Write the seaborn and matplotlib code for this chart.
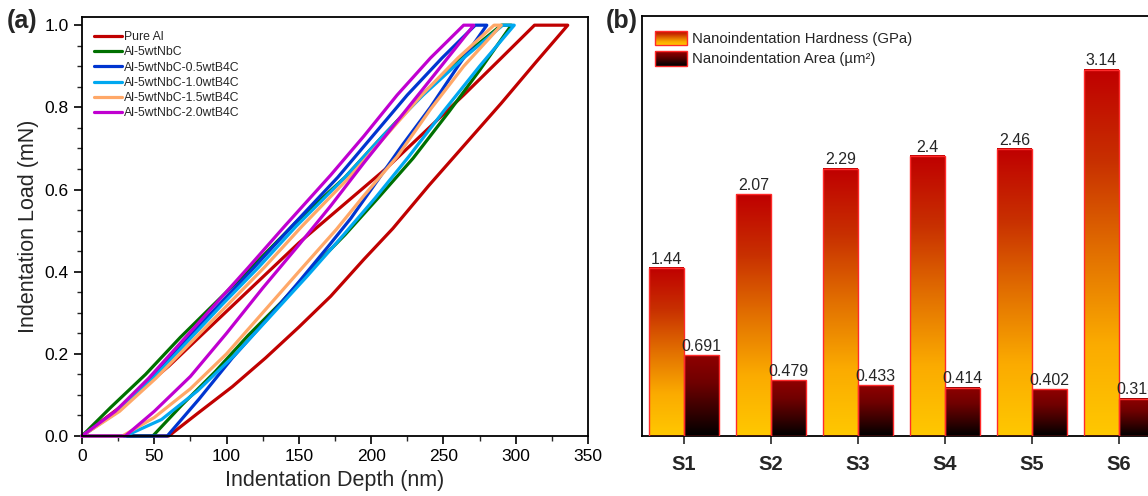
import numpy as np
import pandas as pd
import matplotlib
matplotlib.use('Agg')
import matplotlib.pyplot as plt
import seaborn as sns
from matplotlib.colors import LinearSegmentedColormap
from matplotlib.legend_handler import HandlerBase
from matplotlib.patches import Rectangle
from matplotlib.ticker import MultipleLocator

sns.set_style('ticks')
plt.rcParams['font.family'] = ['Liberation Sans', 'DejaVu Sans']

# ---------------- Panel (a) data: load-depth curves ----------------
samples = ['Pure Al', 'Al-5wtNbC', 'Al-5wtNbC-0.5wtB4C', 'Al-5wtNbC-1.0wtB4C',
           'Al-5wtNbC-1.5wtB4C', 'Al-5wtNbC-2.0wtB4C']
line_colors = ['#c00000', '#007000', '#0035d0', '#00a8f0', '#ffa868', '#c000d0']

pure_al_load_h = [0, 30, 60, 90, 120, 150, 180, 210, 240, 264, 290, 313]
pure_al_load_p = [0, 0.08, 0.17, 0.27, 0.37, 0.47, 0.56, 0.65, 0.75, 0.83, 0.92, 1.0]
pure_al_unload_h = [336, 314, 290, 265, 240, 215, 195, 172, 150, 127, 104, 80, 60, 0]
pure_al_unload_p = [1.0, 0.91, 0.81, 0.71, 0.61, 0.505, 0.43, 0.34, 0.265, 0.19, 0.12, 0.055, 0.0, 0.0]

nbc_load_h = [0, 20, 44, 68, 94, 120, 148, 182, 208, 235, 262, 290]
nbc_load_p = [0, 0.07, 0.15, 0.24, 0.33, 0.42, 0.52, 0.63, 0.73, 0.83, 0.92, 1.0]
nbc_unload_h = [297, 275, 254, 229, 205, 182, 161, 138, 115, 92, 69, 49, 0]
nbc_unload_p = [1.0, 0.89, 0.79, 0.676, 0.58, 0.49, 0.415, 0.326, 0.245, 0.156, 0.075, 0.0, 0.0]

b05_load_h = [0, 24, 48, 71, 95, 119, 145, 177, 201, 225, 249, 272]
b05_load_p = [0, 0.06, 0.14, 0.23, 0.32, 0.41, 0.51, 0.63, 0.73, 0.83, 0.92, 1.0]
b05_unload_h = [280, 260, 241, 222, 204, 186, 170, 150, 127, 104, 81, 59, 0]
b05_unload_p = [1.0, 0.9, 0.8, 0.71, 0.62, 0.53, 0.46, 0.375, 0.28, 0.19, 0.09, 0.0, 0.0]

b10_load_h = [0, 25, 49, 73, 97, 122, 148, 182, 208, 236, 264, 291]
b10_load_p = [0, 0.06, 0.14, 0.23, 0.32, 0.41, 0.51, 0.63, 0.73, 0.83, 0.92, 1.0]
b10_unload_h = [299, 275, 250, 226, 203, 181, 156, 130, 105, 80, 55, 30, 0]
b10_unload_p = [1.0, 0.9, 0.79, 0.68, 0.58, 0.49, 0.39, 0.29, 0.195, 0.11, 0.04, 0.0, 0.0]

b15_load_h = [0, 26, 51, 76, 101, 126, 152, 185, 210, 235, 260, 285]
b15_load_p = [0, 0.06, 0.14, 0.23, 0.32, 0.41, 0.51, 0.63, 0.73, 0.83, 0.92, 1.0]
b15_unload_h = [290, 264, 241, 218, 195, 176, 150, 125, 100, 75, 50, 28, 0]
b15_unload_p = [1.0, 0.9, 0.795, 0.68, 0.585, 0.503, 0.40, 0.30, 0.20, 0.115, 0.045, 0.0, 0.0]

b20_load_h = [0, 23, 46, 69, 92, 115, 140, 172, 195, 218, 241, 264]
b20_load_p = [0, 0.06, 0.14, 0.23, 0.32, 0.41, 0.51, 0.635, 0.73, 0.83, 0.92, 1.0]
b20_unload_h = [271, 245, 220, 195, 172, 150, 125, 100, 75, 50, 30, 0]
b20_unload_p = [1.0, 0.885, 0.775, 0.665, 0.56, 0.465, 0.36, 0.25, 0.145, 0.06, 0.0, 0.0]

# ---------------- Panel (b) data: bars ----------------
bar_categories = ['S1', 'S2', 'S3', 'S4', 'S5', 'S6']
hardness = [1.44, 2.07, 2.29, 2.4, 2.46, 3.14]
hardness_labels = ['1.44', '2.07', '2.29', '2.4', '2.46', '3.14']
area = [0.691, 0.479, 0.433, 0.414, 0.402, 0.318]
area_labels = ['0.691', '0.479', '0.433', '0.414', '0.402', '0.318']
metric_names = ['Nanoindentation Hardness (GPa)', 'Nanoindentation Area (\u00b5m\u00b2)']

# ---------------- build frames ----------------
curves = [
    (pure_al_load_h + pure_al_unload_h, pure_al_load_p + pure_al_unload_p),
    (nbc_load_h + nbc_unload_h, nbc_load_p + nbc_unload_p),
    (b05_load_h + b05_unload_h, b05_load_p + b05_unload_p),
    (b10_load_h + b10_unload_h, b10_load_p + b10_unload_p),
    (b15_load_h + b15_unload_h, b15_load_p + b15_unload_p),
    (b20_load_h + b20_unload_h, b20_load_p + b20_unload_p),
]
rows = []
for name, (hs, ps) in zip(samples, curves):
    for i, (h, p) in enumerate(zip(hs, ps)):
        rows.append({'sample': name, 'order': i, 'depth': h, 'load': p})
df_a = pd.DataFrame(rows)

df_b = pd.DataFrame({
    'sample': bar_categories * 2,
    'metric': [metric_names[0]] * 6 + [metric_names[1]] * 6,
    'value': hardness + area,
})

fig = plt.figure(figsize=(11.48, 4.96), dpi=100)
ax = fig.add_axes([0.0714, 0.121, 0.4408, 0.8448])
axb = fig.add_axes([0.5592, 0.121, 0.4521, 0.8468])

# ---------------- panel (a) ----------------
sns.lineplot(data=df_a, x='depth', y='load', hue='sample', hue_order=samples,
             palette=line_colors, sort=False, estimator=None, linewidth=2.3, ax=ax)
for ln in ax.get_lines():
    ln.set_clip_on(False)
    ln.set_solid_joinstyle('round')
ax.set_xlim(0, 350)
ax.set_ylim(0, 1.02)
ax.xaxis.set_major_locator(MultipleLocator(50))
ax.xaxis.set_minor_locator(MultipleLocator(25))
ax.yaxis.set_major_locator(MultipleLocator(0.2))
ax.yaxis.set_minor_locator(MultipleLocator(0.05))
ax.yaxis.set_major_formatter(matplotlib.ticker.FormatStrFormatter('%.1f'))
ax.tick_params(which='major', direction='out', length=6, width=1.2, labelsize=12.5, colors='black')
ax.tick_params(which='minor', direction='out', length=3.5, width=1.0)
for s in ax.spines.values():
    s.set_linewidth(1.3)
    s.set_color('black')
ax.set_xlabel('Indentation Depth (nm)', fontsize=15.5)
ax.set_ylabel('Indentation Load (mN)', fontsize=15.5)
handles, labels = ax.get_legend_handles_labels()
ax.legend(handles, labels, loc='upper left', bbox_to_anchor=(0.0, 0.995), frameon=False,
          fontsize=8.8, handlelength=2.3, handletextpad=0.15, labelspacing=0.26,
          borderaxespad=0.6)

# ---------------- panel (b) ----------------
cmap_h = LinearSegmentedColormap.from_list('hard', ['#ffc800', '#fbab00', '#e27000', '#c83000', '#bf0000'])
cmap_a = LinearSegmentedColormap.from_list('area', ['#000000', '#3a0000', '#700000', '#8f0000'])

sns.barplot(data=df_b, x='sample', y='value', hue='metric', hue_order=metric_names,
            order=bar_categories, width=0.8, legend=False, ax=axb)
grad = np.linspace(0, 1, 256).reshape(-1, 1)
for cont, cmap, labs in zip(axb.containers, [cmap_h, cmap_a], [hardness_labels, area_labels]):
    for bar in cont:
        x0 = bar.get_x()
        w = bar.get_width()
        h = bar.get_height()
        axb.imshow(grad, extent=[x0, x0 + w, 0, h], origin='lower', aspect='auto',
                   cmap=cmap, zorder=2, interpolation='bilinear')
        bar.set_facecolor('none')
        bar.set_edgecolor('#ff2a2a')
        bar.set_linewidth(1.0)
        bar.set_zorder(3)
    axb.bar_label(cont, labels=labs, padding=1, fontsize=11.5, zorder=4)

axb.set_xlim(-0.483, 5.483)
axb.set_ylim(0, 3.6)
axb.set_xlabel('')
axb.set_ylabel('')
axb.set_yticks([])
axb.tick_params(axis='x', direction='out', length=6, width=1.2, labelsize=14.5, pad=8)
for t in axb.get_xticklabels():
    t.set_fontweight('bold')
for s in axb.spines.values():
    s.set_visible(True)
    s.set_linewidth(1.3)
    s.set_color('black')


class GradientHandler(HandlerBase):
    def __init__(self, cmap, n=16):
        super().__init__()
        self.cmap = cmap
        self.n = n

    def create_artists(self, legend, orig_handle, xdescent, ydescent, width, height, fontsize, trans):
        arts = []
        for i in range(self.n):
            y0 = -ydescent + height * i / self.n
            arts.append(Rectangle((-xdescent, y0), width, height / self.n * 1.05,
                                  facecolor=self.cmap(i / (self.n - 1)), edgecolor='none',
                                  transform=trans))
        arts.append(Rectangle((-xdescent, -ydescent), width, height, facecolor='none',
                              edgecolor='#ff2a2a', linewidth=1.0, transform=trans))
        return arts


p1 = Rectangle((0, 0), 1, 1)
p2 = Rectangle((0, 0), 1, 1)
axb.legend([p1, p2], metric_names, loc='upper left', bbox_to_anchor=(0.0, 0.997),
           frameon=False, fontsize=10.7, handlelength=2.1, handleheight=1.15,
           handletextpad=0.4, labelspacing=0.32, borderaxespad=0.5,
           handler_map={p1: GradientHandler(cmap_h), p2: GradientHandler(cmap_a)})

fig.text(0.006, 0.958, '(a)', fontsize=18, fontweight='bold', va='center', ha='left')
fig.text(0.528, 0.958, '(b)', fontsize=18, fontweight='bold', va='center', ha='left')

fig.savefig('out.png', dpi=100)
